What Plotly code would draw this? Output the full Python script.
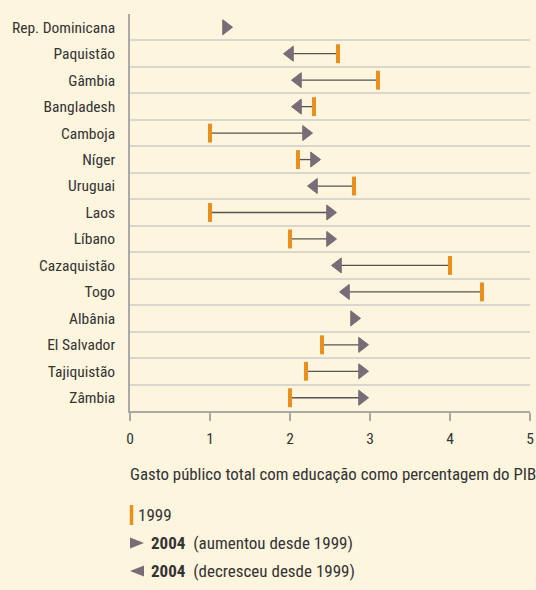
import plotly.graph_objects as go

countries = ["Rep. Dominicana", "Paquistão", "Gâmbia", "Bangladesh", "Camboja", "Níger",
             "Uruguai", "Laos", "Líbano", "Cazaquistão", "Togo", "Albânia",
             "El Salvador", "Tajiquistão", "Zâmbia"]
v1999 = [None, 2.6, 3.1, 2.3, 1.0, 2.1, 2.8, 1.0, 2.0, 4.0, 4.4, None, 2.4, 2.2, 2.0]
v2004 = [1.2, 2.0, 2.1, 2.1, 2.2, 2.3, 2.3, 2.5, 2.5, 2.6, 2.7, 2.8, 2.9, 2.9, 2.9]
increased = [True, False, False, False, True, True, False, True, True, False, False,
             True, True, True, True]
x_ticks = [0, 1, 2, 3, 4, 5]

FONT = "Roboto Condensed, Liberation Sans Narrow, Roboto, sans-serif"
BG = "#fdf5de"
ORANGE = "#e8901f"
MAUVE = "#7a6b76"
LINEC = "#555555"
GRID = "#d9d6cf"
AXIS = "#a9a9a9"
TXT = "#333333"

lx, ly = [], []
for c, a, b in zip(countries, v1999, v2004):
    if a is None:
        continue
    lx += [a, b, None]
    ly += [c, c, None]

fig = go.Figure()
fig.add_trace(go.Scatter(x=lx, y=ly, mode="lines", line=dict(color=LINEC, width=1.3),
                         hoverinfo="skip", showlegend=False))
fig.add_trace(go.Scatter(
    x=[a for a in v1999 if a is not None],
    y=[c for c, a in zip(countries, v1999) if a is not None],
    mode="markers", showlegend=False,
    marker=dict(symbol="line-ns", size=13.5, line=dict(color=ORANGE, width=4))))
fig.add_trace(go.Scatter(
    x=[v for v, u in zip(v2004, increased) if u],
    y=[c for c, u in zip(countries, increased) if u],
    mode="markers", showlegend=False,
    marker=dict(symbol="triangle-right", size=13, color=MAUVE, line=dict(color=MAUVE, width=1))))
fig.add_trace(go.Scatter(
    x=[v for v, u in zip(v2004, increased) if not u],
    y=[c for c, u in zip(countries, increased) if not u],
    mode="markers", showlegend=False,
    marker=dict(symbol="triangle-left", size=13, color=MAUVE, line=dict(color=MAUVE, width=1))))

def py(p):
    # pixel y -> paper y (plot spans 14..411 px)
    return (411 - p) / 397.0

annos = [
    dict(text="Gasto público total com educação como percentagem do PIB", x=0, y=py(474),
         xshift=-2, font_size=16.85),
    dict(text="1999", x=0, y=py(515), xshift=6),
    dict(text="<b>2004</b>  (aumentou desde 1999)", x=0, y=py(543), xshift=19),
    dict(text="<b>2004</b>  (decresceu desde 1999)", x=0, y=py(571), xshift=19),
]
annotations = []
for a in annos:
    d = dict(xref="paper", yref="paper", xanchor="left", yanchor="middle", showarrow=False,
             font=dict(family=FONT, size=a.pop("font_size", 17), color=TXT))
    d.update(a)
    annotations.append(d)

shapes = [
    dict(type="line", xref="paper", yref="paper", xsizemode="pixel", ysizemode="pixel",
         xanchor=0, yanchor=py(515), x0=1.5, x1=1.5, y0=-10, y1=10,
         line=dict(color=ORANGE, width=3.5)),
    dict(type="path", xref="paper", yref="paper", xsizemode="pixel", ysizemode="pixel",
         xanchor=0, yanchor=py(543), path="M0,-5.5 L14,0 L0,5.5 Z",
         fillcolor=MAUVE, line=dict(width=0)),
    dict(type="path", xref="paper", yref="paper", xsizemode="pixel", ysizemode="pixel",
         xanchor=0, yanchor=py(571), path="M14,-5.5 L0,0 L14,5.5 Z",
         fillcolor=MAUVE, line=dict(width=0)),
]

fig.update_layout(
    width=536, height=590,
    margin=dict(l=129.5, r=6, t=14, b=179),
    paper_bgcolor=BG, plot_bgcolor=BG,
    font=dict(family=FONT, size=15, color=TXT),
    annotations=annotations, shapes=shapes,
    xaxis=dict(range=[0, 5], tickvals=x_ticks, showgrid=False, zeroline=False,
               showline=True, linecolor=AXIS, linewidth=1.5, automargin=False,
               ticks="outside", ticklen=8, tickcolor=AXIS, tickwidth=1.5,
               ticklabelstandoff=5,
               tickfont=dict(family=FONT, size=15.5, color=TXT), fixedrange=True),
    yaxis=dict(type="category", categoryorder="array", categoryarray=countries,
               range=[len(countries) - 0.5, -0.5], tickson="boundaries", showgrid=True,
               gridcolor=GRID, gridwidth=1.5, ticks="", showline=True, automargin=False,
               linecolor=AXIS, linewidth=1.5, ticklabelstandoff=10,
               tickfont=dict(family=FONT, size=15.5, color=TXT), fixedrange=True),
    showlegend=False,
)

fig.write_html("out.html", config={"displayModeBar": False},
               post_script="document.body.style.margin='0px';")
